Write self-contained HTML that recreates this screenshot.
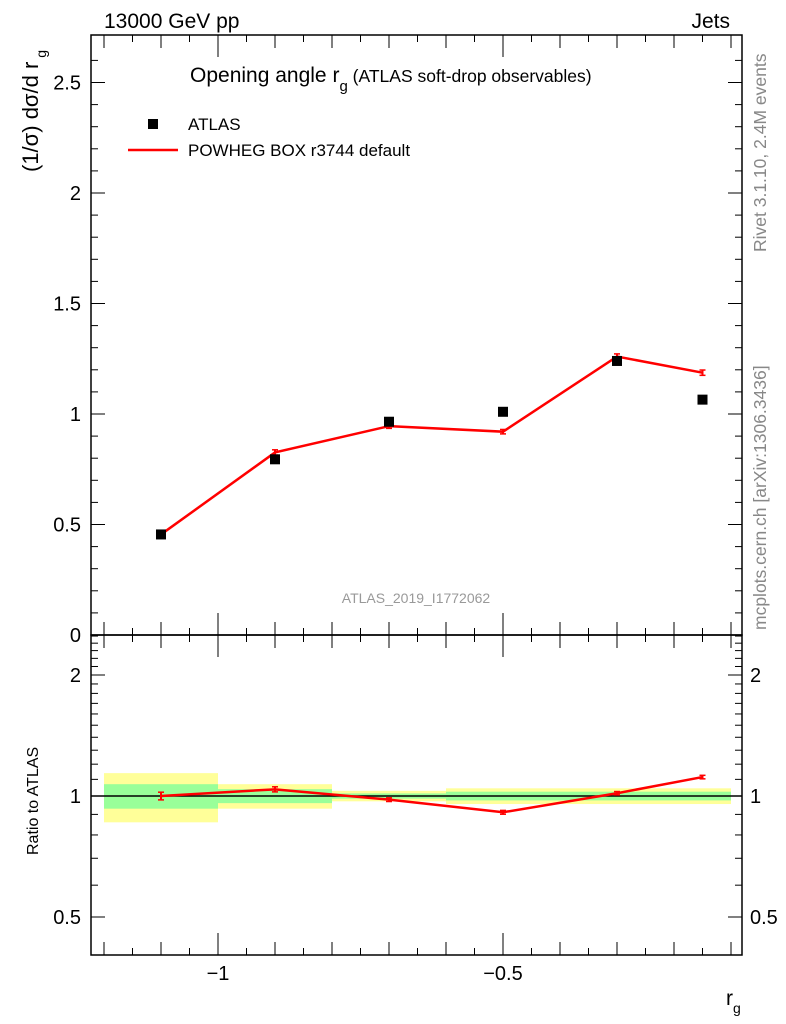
<!DOCTYPE html>
<html><head><meta charset="utf-8"><style>
body{margin:0;background:#fff;}
svg{display:block;font-family:"Liberation Sans",sans-serif;}
</style></head><body>
<svg id="c" width="786" height="1024"></svg>
<script>
const binLo=[-1.2,-1.0,-0.8,-0.6,-0.4,-0.2];
const binHi=[-1.0,-0.8,-0.6,-0.4,-0.2,-0.1];
const dataY=[0.455,0.795,0.965,1.01,1.24,1.065];
const mcY=[0.455,0.826,0.945,0.92,1.26,1.187];
const mcErr=[0.01,0.012,0.01,0.01,0.012,0.012];
const bandYellow=[0.14,0.07,0.03,0.045,0.045,0.045];
const bandGreen=[0.07,0.04,0.015,0.025,0.025,0.025];
const mainTicks=[0,0.5,1,1.5,2,2.5];
const mainTickLabels=["0","0.5","1","1.5","2","2.5"];
const ratioTicks=[0.5,1,2];
const ratioTickLabels=["0.5","1","2"];
const xTicks=[-1,-0.5];
const xTickLabels=["\u22121","\u22120.5"];

const NS="http://www.w3.org/2000/svg";
const svg=document.getElementById('c');
const L=91,R=742,T=35,M=635,B=955;
const XMIN=-1.2228,XMAX=-0.0807;
const sx=v=>L+(v-XMIN)/(XMAX-XMIN)*(R-L);
const sy=v=>M-v*221;
const sr=v=>796-Math.log2(v)*121;
function el(t,a,txt){const e=document.createElementNS(NS,t);for(const k in a)e.setAttribute(k,a[k]);if(txt!==undefined)e.textContent=txt;svg.appendChild(e);return e;}

for(let i=0;i<binLo.length;i++){
 const y=el('rect',{x:sx(binLo[i]),y:sr(1+bandYellow[i]),width:sx(binHi[i])-sx(binLo[i]),height:sr(1-bandYellow[i])-sr(1+bandYellow[i]),fill:'#ffff99'});
 
 
 const g=el('rect',{x:sx(binLo[i]),y:sr(1+bandGreen[i]),width:sx(binHi[i])-sx(binLo[i]),height:sr(1-bandGreen[i])-sr(1+bandGreen[i]),fill:'#99ff99'});
 
 
}
const one=el('line',{x1:L,x2:R,y1:sr(1),y2:sr(1),stroke:'#000','stroke-width':1.5});



for(const [y1,y2,n] of [[T,M,'main-frame'],[M,B,'ratio-frame']]){
 const f=el('rect',{x:L,y:y1,width:R-L,height:y2-y1,fill:'none',stroke:'#000','stroke-width':1.5});
 
 
}
for(let v=0;v<=2.7;v+=0.1){const vv=Math.round(v*10)/10;const maj=Math.abs(vv*2-Math.round(vv*2))<1e-6;const len=maj?14:7;
 el('line',{x1:L,x2:L+len,y1:sy(vv),y2:sy(vv),stroke:'#000'});el('line',{x1:R,x2:R-len,y1:sy(vv),y2:sy(vv),stroke:'#000'});}
mainTicks.forEach((v,i)=>{const t=el('text',{x:L-10,y:sy(v)+7,'text-anchor':'end','font-size':20},mainTickLabels[i]);
 });
for(let k=4;k<=25;k++){const v=k/10;const maj=(v===0.5||v===1||v===2);const len=maj?14:7;const y=sr(v);if(y<M||y>B)continue;
 el('line',{x1:L,x2:L+len,y1:y,y2:y,stroke:'#000'});el('line',{x1:R,x2:R-len,y1:y,y2:y,stroke:'#000'});}
ratioTicks.forEach((v,i)=>{
 const a=el('text',{x:L-10,y:sr(v)+7,'text-anchor':'end','font-size':20},ratioTickLabels[i]);
 
 const b=el('text',{x:R+8,y:sr(v)+7,'text-anchor':'start','font-size':20},ratioTickLabels[i]);
 });
for(let k=-24;k<=-2;k++){const v=k/20;const x=sx(v);if(x<L||x>R)continue;
 const len=(k%10===0)?22:(k%2===0?13:7);
 for(const [y0,d] of [[M,-1],[M,1],[B,-1],[T,1]]) el('line',{x1:x,x2:x,y1:y0,y2:y0+d*len,stroke:'#000'});}
xTicks.forEach((v,i)=>{const t=el('text',{x:sx(v),y:980,'text-anchor':'middle','font-size':20},xTickLabels[i]);
 });

const cx=binLo.map((b,i)=>(b+binHi[i])/2);
const pl=el('polyline',{points:cx.map((c,i)=>sx(c)+','+sy(mcY[i])).join(' '),fill:'none',stroke:'#f00','stroke-width':2.5});

cx.forEach((c,i)=>{const x=sx(c);
 el('line',{x1:x,x2:x,y1:sy(mcY[i]+mcErr[i]),y2:sy(mcY[i]-mcErr[i]),stroke:'#f00','stroke-width':2});
 el('line',{x1:x-3,x2:x+3,y1:sy(mcY[i]+mcErr[i]),y2:sy(mcY[i]+mcErr[i]),stroke:'#f00','stroke-width':1.5});
 el('line',{x1:x-3,x2:x+3,y1:sy(mcY[i]-mcErr[i]),y2:sy(mcY[i]-mcErr[i]),stroke:'#f00','stroke-width':1.5});
 const s=el('rect',{x:x-5,y:sy(dataY[i])-5,width:10,height:10,fill:'#000'});
 
});
const rl=el('polyline',{points:cx.map((c,i)=>sx(c)+','+sr(mcY[i]/dataY[i])).join(' '),fill:'none',stroke:'#f00','stroke-width':2.5});

cx.forEach((c,i)=>{const x=sx(c),r=mcY[i]/dataY[i],e=mcErr[i]/dataY[i];
 el('line',{x1:x,x2:x,y1:sr(r+e),y2:sr(r-e),stroke:'#f00','stroke-width':2});
 el('line',{x1:x-3,x2:x+3,y1:sr(r+e),y2:sr(r+e),stroke:'#f00','stroke-width':1.5});
 el('line',{x1:x-3,x2:x+3,y1:sr(r-e),y2:sr(r-e),stroke:'#f00','stroke-width':1.5});});
</script>
<svg width="786" height="1024" style="position:absolute;left:0;top:0">
<text x="104" y="28" font-size="21">13000 GeV pp</text>
<text x="730" y="28" font-size="21" text-anchor="end">Jets</text>
<text x="190" y="82" font-size="21">Opening angle r<tspan font-size="15" dy="9">g</tspan><tspan font-size="17.5" dy="-9"> (ATLAS soft-drop observables)</tspan></text>
<rect x="148" y="119" width="10" height="10" fill="#000"/>
<text x="188" y="130" font-size="17">ATLAS</text>
<line x1="128" x2="178" y1="150" y2="150" stroke="#f00" stroke-width="2.5"/>
<text x="188" y="156" font-size="17">POWHEG BOX r3744 default</text>
<text x="416" y="603" font-size="14" fill="#999" text-anchor="middle">ATLAS_2019_I1772062</text>
<text transform="translate(766,252) rotate(-90)" font-size="17.5" fill="#888">Rivet 3.1.10,  2.4M events</text>
<text transform="translate(766,630) rotate(-90)" font-size="17.5" fill="#888">mcplots.cern.ch [arXiv:1306.3436]</text>
<text transform="translate(38,172) rotate(-90)" font-size="22">(1/σ) dσ/d r<tspan font-size="14" dx="4" dy="8">g</tspan></text>
<text transform="translate(38,855) rotate(-90)" font-size="16">Ratio to ATLAS</text>
<text x="726" y="1005" font-size="21">r<tspan font-size="14" dy="8">g</tspan></text>
</svg>
</body></html>
